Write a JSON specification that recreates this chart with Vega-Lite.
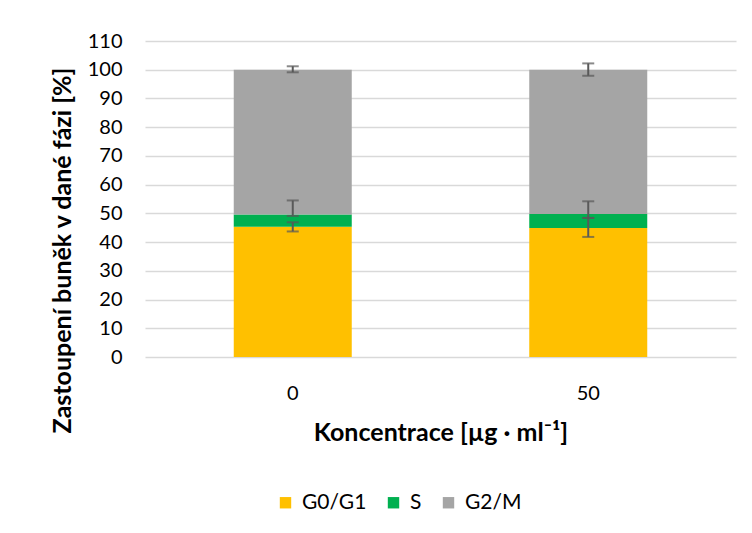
{
  "$schema": "https://vega.github.io/schema/vega-lite/v6.json",
  "width": 591,
  "height": 316,
  "autosize": "none",
  "padding": {"left": 145, "top": 41, "right": 16, "bottom": 176},
  "background": "white",
  "config": {
    "font": "Lato",
    "view": {"stroke": null},
    "axisY": {
      "labelOverlap": false,
      "labelFontSize": 20,
      "labelColor": "#000000",
      "labelPadding": 23,
      "ticks": false,
      "domain": false,
      "grid": true,
      "gridColor": "#D9D9D9",
      "gridWidth": 1.3,
      "titleFontSize": 25,
      "titleFontWeight": "bold",
      "titleColor": "#000000",
      "titleX": -83,
      "titleY": 209,
      "titleBaseline": "middle",
      "titleAlign": "center"
    }
  },
  "data": {
    "values": [
      {"conc": "0", "phase": "G0/G1", "ord": 1, "value": 45.3, "low": 43.7, "high": 46.9},
      {"conc": "0", "phase": "S", "ord": 2, "value": 4.3, "low": 49.1, "high": 54.5},
      {"conc": "0", "phase": "G2/M", "ord": 3, "value": 50.4, "low": 99.1, "high": 101.2},
      {"conc": "50", "phase": "G0/G1", "ord": 1, "value": 44.9, "low": 41.8, "high": 48.4},
      {"conc": "50", "phase": "S", "ord": 2, "value": 4.9, "low": 48.4, "high": 54.2},
      {"conc": "50", "phase": "G2/M", "ord": 3, "value": 50.2, "low": 97.9, "high": 102.2}
    ]
  },
  "encoding": {
    "x": {
      "field": "conc",
      "type": "nominal",
      "sort": ["0", "50"],
      "scale": {"paddingInner": 0, "paddingOuter": 0},
      "axis": {
        "title": "Koncentrace [µg · ml⁻¹]",
        "labelAngle": 0,
        "labelFontSize": 20,
        "labelColor": "#000000",
        "labelPadding": 26,
        "ticks": false,
        "domain": false,
        "titleFontSize": 25,
        "titleFontWeight": "bold",
        "titleColor": "#000000",
        "titleY": 75,
        "titleBaseline": "middle"
      }
    }
  },
  "layer": [
    {
      "mark": {"type": "bar", "size": 118},
      "encoding": {
        "y": {
          "field": "value",
          "type": "quantitative",
          "stack": "zero",
          "scale": {"domain": [0, 110], "nice": false},
          "axis": {
            "title": "Zastoupení buněk v dané fázi [%]",
            "values": [0, 10, 20, 30, 40, 50, 60, 70, 80, 90, 100, 110]
          }
        },
        "color": {
          "field": "phase",
          "type": "nominal",
          "scale": {
            "domain": ["G0/G1", "S", "G2/M"],
            "range": ["#FFC000", "#00B050", "#A5A5A5"]
          },
          "legend": {
            "title": null,
            "orient": "none",
            "direction": "horizontal",
            "legendX": 130,
            "legendY": 451,
            "symbolType": "square",
            "symbolSize": 130,
            "symbolStrokeWidth": 0,
            "labelFontSize": 21,
            "labelColor": "#000000",
            "columnPadding": 16,
            "labelOffset": 6
          }
        },
        "order": {"field": "ord", "type": "quantitative"}
      }
    },
    {
      "mark": {"type": "rule", "color": "#595959", "strokeWidth": 2},
      "encoding": {
        "y": {
          "field": "low",
          "type": "quantitative",
          "axis": {
            "title": "Zastoupení buněk v dané fázi [%]",
            "values": [0, 10, 20, 30, 40, 50, 60, 70, 80, 90, 100, 110]
          }
        },
        "y2": {"field": "high"}
      }
    },
    {
      "mark": {"type": "tick", "color": "#595959", "size": 12, "thickness": 2, "orient": "horizontal"},
      "encoding": {
        "y": {
          "field": "low",
          "type": "quantitative",
          "axis": {
            "title": "Zastoupení buněk v dané fázi [%]",
            "values": [0, 10, 20, 30, 40, 50, 60, 70, 80, 90, 100, 110]
          }
        }
      }
    },
    {
      "mark": {"type": "tick", "color": "#595959", "size": 12, "thickness": 2, "orient": "horizontal"},
      "encoding": {
        "y": {
          "field": "high",
          "type": "quantitative",
          "axis": {
            "title": "Zastoupení buněk v dané fázi [%]",
            "values": [0, 10, 20, 30, 40, 50, 60, 70, 80, 90, 100, 110]
          }
        }
      }
    }
  ]
}
